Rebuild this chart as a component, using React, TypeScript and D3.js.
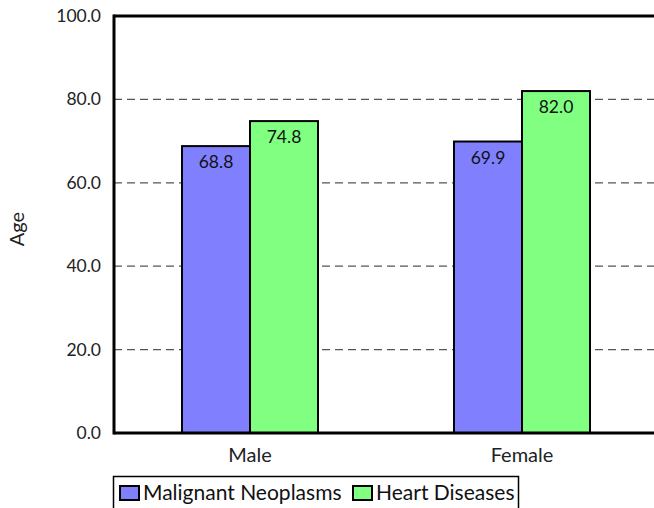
import React from "react";
import * as d3 from "d3";

const categories = ["Male", "Female"];
const seriesNames = ["Malignant Neoplasms", "Heart Diseases"];
const malignant = [68.8, 69.9];
const heart = [74.8, 82.0];
const colors = ["#8080ff", "#80ff80"];
const yTicks = [0, 20, 40, 60, 80, 100];

const W = 654;
const H = 508;
const left = 114;
const top = 16;
const bottom = 433;
const right = 658;
const FONT = "Lato, 'Open Sans', sans-serif";

export default function App() {
  const x = d3.scaleBand<string>().domain(categories).range([left, right]).padding(0);
  const y = d3.scaleLinear().domain([0, 100]).range([bottom, top]);
  const bw = x.bandwidth() * 0.25;
  const series = [malignant, heart];

  return (
    <svg width={W} height={H} style={{ position: "absolute", left: 0, top: 0 }} fontFamily={FONT}>
      <rect x={0} y={0} width={W} height={H} fill="white" />
      {yTicks.filter((t) => t > 0 && t < 100).map((t) => (
        <line key={t} x1={left} x2={W} y1={y(t)} y2={y(t)} stroke="#555" strokeWidth={1.2} strokeDasharray="8,5" />
      ))}
      {categories.map((c, i) =>
        series.map((s, j) => {
          const cx = x(c)! + x.bandwidth() / 2;
          const bx = cx - bw + j * bw;
          return (
            <g key={c + j}>
              <rect x={bx} y={y(s[i])} width={bw} height={bottom - y(s[i])} fill={colors[j]} stroke="black" strokeWidth={2} />
              <text x={bx + bw / 2} y={y(s[i]) + 22} textAnchor="middle" fontSize={17.5} fill="#111">
                {s[i].toFixed(1)}
              </text>
            </g>
          );
        })
      )}
      <line x1={left} x2={W} y1={top} y2={top} stroke="black" strokeWidth={3} />
      <line x1={left} x2={left} y1={top - 1.5} y2={bottom + 1.5} stroke="black" strokeWidth={3} />
      <line x1={left} x2={W} y1={bottom} y2={bottom} stroke="black" strokeWidth={3} />
      {yTicks.map((t) => (
        <text key={t} x={101} y={y(t) + 6} textAnchor="end" fontSize={17.5} fill="#222">
          {t.toFixed(1)}
        </text>
      ))}
      {categories.map((c) => (
        <text key={c} x={x(c)! + x.bandwidth() / 2} y={462} textAnchor="middle" fontSize={20} fill="#222">
          {c}
        </text>
      ))}
      <text transform="translate(24,229) rotate(-90)" textAnchor="middle" fontSize={20} fill="#222">Age</text>
      <rect x={113.5} y={476.5} width={405} height={40} fill="white" stroke="black" strokeWidth={1.5} />
      {seriesNames.map((n, j) => {
        const lx = j === 0 ? 120 : 353;
        return (
          <g key={n}>
            <rect x={lx} y={486} width={19} height={14} fill={colors[j]} stroke="black" strokeWidth={2} />
            <text x={lx + 23} y={500} fontSize={21} fill="#111">{n}</text>
          </g>
        );
      })}
    </svg>
  );
}
